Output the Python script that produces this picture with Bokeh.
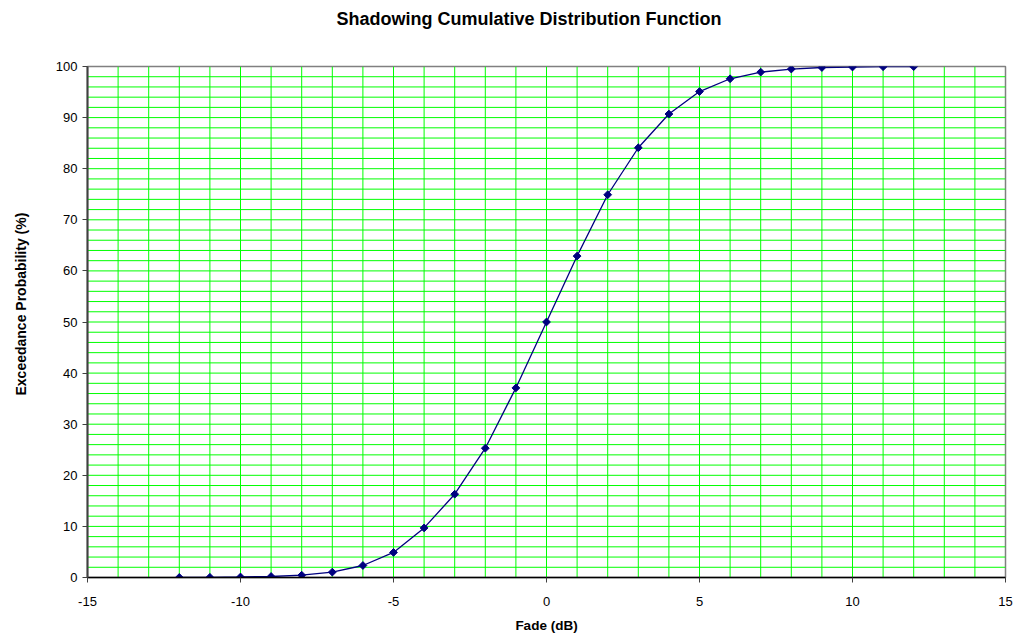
import numpy as np
from bokeh.plotting import figure
from bokeh.models import Range1d, SingleIntervalTicker, Title, PrintfTickFormatter
from bokeh.embed import file_html
from bokeh.resources import INLINE

fade_db = [-12, -11, -10, -9, -8, -7, -6, -5, -4, -3, -2, -1, 0,
           1, 2, 3, 4, 5, 6, 7, 8, 9, 10, 11, 12]
exceed_pct = [0.02, 0.04, 0.1, 0.2, 0.45, 1.05, 2.35, 4.9, 9.7, 16.3, 25.3, 37.1, 50.0,
              62.9, 74.9, 84.1, 90.7, 95.1, 97.6, 98.9, 99.5, 99.8, 99.9, 99.96, 99.98]
x_grid = list(range(-14, 15, 1))
y_grid = list(range(2, 100, 2))
x_min, x_max = -15, 15
y_min, y_max = 0, 100

title_text = "Shadowing Cumulative Distribution Function"
x_label = "Fade (dB)"
y_label = "Exceedance Probability (%)"

p = figure(width=1022, height=636, output_backend="svg", toolbar_location=None,
           x_range=Range1d(x_min, x_max), y_range=Range1d(y_min, y_max),
           min_border_left=87, min_border_right=17, min_border_top=66, min_border_bottom=59)

p.xaxis.ticker = SingleIntervalTicker(interval=5, num_minor_ticks=0)
p.yaxis.ticker = SingleIntervalTicker(interval=10, num_minor_ticks=0)
p.xaxis.formatter = PrintfTickFormatter(format="%d")
p.yaxis.formatter = PrintfTickFormatter(format="%d")

for ax in (p.xaxis, p.yaxis):
    ax.major_label_text_font = "Liberation Sans"
    ax.major_label_text_font_size = "13px"
    ax.major_label_text_color = "#000000"
    ax.axis_label_text_font = "Liberation Sans"
    ax.axis_label_text_font_size = "13.5px"
    ax.axis_label_text_font_style = "bold"
    ax.axis_label_text_color = "#000000"
    ax.major_tick_in = 0
    ax.major_tick_out = 5
    ax.minor_tick_in = 0
    ax.minor_tick_out = 0
    ax.major_tick_line_color = "#404040"

p.xaxis.axis_label = x_label
p.xaxis.axis_line_color = "#000000"
p.xaxis.axis_line_width = 1.5
p.yaxis.axis_line_color = "#404040"
p.yaxis.axis_line_width = 2
p.xaxis.major_label_standoff = 14
p.yaxis.major_label_standoff = 5
p.xaxis.axis_label_standoff = 9

p.xgrid.grid_line_color = None
p.ygrid.grid_line_color = None
p.xgrid.minor_grid_line_color = None
p.ygrid.minor_grid_line_color = None

p.outline_line_color = "#808080"
p.outline_line_width = 1.5
p.background_fill_color = "#FFFFFF"
p.border_fill_color = "#FFFFFF"

# grid lines drawn from the grid position arrays
p.segment(x0=x_grid, y0=[y_min] * len(x_grid), x1=x_grid, y1=[y_max] * len(x_grid),
          line_color="#00FF00", line_width=1)
p.segment(x0=[x_min] * len(y_grid), y0=y_grid, x1=[x_max] * len(y_grid), y1=y_grid,
          line_color="#00FF00", line_width=1)

p.line(fade_db, exceed_pct, line_color="#000080", line_width=1.3)
p.scatter(fade_db, exceed_pct, marker="square", angle=np.pi / 4, size=5.5,
          fill_color="#000080", line_color="#000080")

p.title = None
# spacer between frame and title, then the title itself
p.add_layout(Title(text=" ", standoff=34, text_font_size="1px"), "above")
p.add_layout(Title(text=title_text, align="left", offset=249, standoff=0,
                   vertical_align="middle",
                   text_font="Liberation Sans", text_font_size="18px",
                   text_font_style="bold", text_color="#000000"), "above")
# spacer between y axis and its label, then the label
p.add_layout(Title(text=" ", standoff=20, text_font_size="1px"), "left")
p.add_layout(Title(text=y_label, align="left", offset=182, standoff=0,
                   vertical_align="middle",
                   text_font="Liberation Sans", text_font_size="14px",
                   text_font_style="bold", text_color="#000000"), "left")

open("out.html", "w").write(file_html(p, INLINE))
